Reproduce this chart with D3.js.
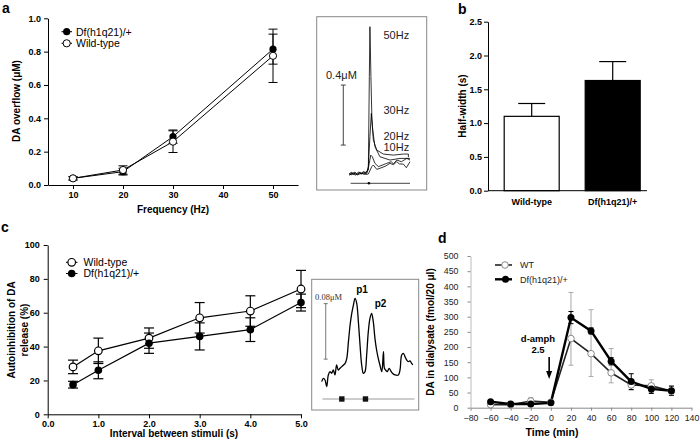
<!DOCTYPE html>
<html><head><meta charset="utf-8">
<script src="https://cdn.jsdelivr.net/npm/d3@7"></script>
<style>body{margin:0;background:#fff}svg{display:block}</style>
</head><body>
<script>
// ---------- DATA ----------
// Panel a
const aFreq = [10, 20, 30, 50];
const aDfMean = [0.04, 0.08, 0.29, 0.815];
const aDfSem = [0.01, 0.02, 0.04, 0.09];
const aWtMean = [0.04, 0.09, 0.26, 0.775];
const aWtSem = [0.01, 0.025, 0.065, 0.16];
const aXTicks = [10, 20, 30, 40, 50];
const aYTicks = [0, 0.2, 0.4, 0.6, 0.8, 1.0];
// Inset a traces [time s, µM]
const insA50 = [[0,0.018],[0.1,0.03],[0.2,0.012],[0.3,0.028],[0.4,0.015],[0.5,0.03],[0.6,0.02],[0.7,0.035],[0.8,0.025],[0.9,0.04],[0.95,0.044],[1.0,0.667],[1.03,1.0],[1.08,0.667],[1.13,0.378],[1.2,0.244],[1.37,0.178],[1.7,0.151],[2.2,0.144],[2.7,0.151],[2.95,0.151],[2.95,0.13]];
const insA30 = [[0,0.013],[0.15,0.025],[0.3,0.01],[0.45,0.03],[0.6,0.018],[0.75,0.03],[0.87,0.029],[0.95,0.067],[1.03,0.267],[1.1,0.422],[1.17,0.311],[1.28,0.2],[1.53,0.133],[2.03,0.111],[2.53,0.122],[3.03,0.122]];
const insA20 = [[0,0.022],[0.12,0.012],[0.25,0.03],[0.4,0.016],[0.55,0.028],[0.7,0.02],[0.87,0.022],[0.95,0.056],[1.07,0.144],[1.15,0.133],[1.28,0.089],[1.45,0.067],[1.87,0.089],[2.1,0.1],[2.2,0.085],[2.37,0.111],[2.6,0.1],[2.87,0.122],[3.03,0.111]];
const insA10 = [[0,0.011],[0.2,0.025],[0.4,0.012],[0.6,0.022],[0.8,0.015],[0.95,0.018],[1.12,0.067],[1.2,0.078],[1.37,0.049],[1.53,0.056],[1.8,0.07],[2.03,0.089],[2.2,0.08],[2.37,0.1],[2.5,0.085],[2.7,0.084],[2.85,0.06],[3.03,0.1]];
const insAStimTime = 0.98;
// Panel b
const bGroups = ["Wild-type", "Df(h1q21)/+"];
const bMean = [1.1, 1.63];
const bSem = [0.19, 0.28];
const bYTicks = [0, 0.5, 1.0, 1.5, 2.0, 2.5];
// Panel c
const cInterval = [0.5, 1, 2, 3, 4, 5];
const cWtMean = [28, 37.5, 45, 57, 61, 74];
const cWtSem = [4, 7.5, 6, 9, 9, 11];
const cDfMean = [17.5, 26, 42, 46, 50, 66];
const cDfSem = [2, 5, 6, 8, 7, 5];
const cXTicks = [0, 1, 2, 3, 4, 5];
const cYTicks = [0, 20, 40, 60, 80, 100];
// Inset c trace [time s, nM]
const insC = [[0,9.6],[0.07,14.4],[0.14,12],[0.21,2.4],[0.28,19.2],[0.35,24],[0.42,21.6],[0.49,26.4],[0.56,19.2],[0.63,33.6],[0.7,26.4],[0.77,28.8],[0.85,31.2],[0.92,33.6],[0.99,36],[1.06,43.2],[1.13,67.2],[1.2,91.2],[1.27,108],[1.34,120],[1.41,129.6],[1.48,122.4],[1.55,96],[1.62,62.4],[1.69,33.6],[1.76,21.6],[1.83,24],[1.9,48],[1.97,81.6],[2.04,100.8],[2.11,108],[2.18,96],[2.25,72],[2.32,55.2],[2.39,43.2],[2.46,33.6],[2.54,24],[2.61,52.8],[2.65,28.8],[2.7,26.4],[2.77,24],[2.85,28.8],[2.92,25],[2.99,21.6],[3.1,19.2],[3.24,19.2],[3.31,26.4],[3.38,48],[3.45,50.4],[3.52,45.6],[3.59,40.8],[3.66,38.4],[3.73,39.4],[3.8,36],[3.85,33.6]];
const insCStims = [0.85, 1.85];
// Panel d
const dTime = [-60, -40, -20, 0, 20, 40, 60, 80, 100, 120];
const dWtMean = [10, 10, 22, 18, 228, 178, 115, 75, 72, 55];
const dWtHigh = [13, 13, 33, 22, 380, 323, 195, 92, 92, 72];
const dWtLow = [7, 7, 12, 14, 140, 103, 82, 58, 50, 40];
const dDfMean = [20, 12, 12, 16, 297, 253, 153, 86, 62, 56];
const dDfSem = [3, 3, 4, 3, 20, 10, 12, 26, 15, 15];
const dXTicks = [-80, -60, -40, -20, 0, 20, 40, 60, 80, 100, 120, 140];
const dYTicks = [0, 50, 100, 150, 200, 250, 300, 350, 400, 450, 500];

// ---------- DRAWING ----------
const F = "'Liberation Sans', Arial, Helvetica, sans-serif";
const svg = d3.select("body").append("svg").attr("width", 700).attr("height", 443)
  .style("font-family", F);

function styleAxis(g, size, weight, color) {
  g.attr("font-family", F).attr("font-size", size).attr("font-weight", weight);
  g.selectAll("text").attr("fill", color || "#000");
  g.selectAll("line").attr("stroke", color || "#000");
  g.select(".domain").attr("stroke", color || "#000");
}
function txt(x, y, s, size, weight, anchor, fam) {
  return svg.append("text").attr("x", x).attr("y", y).text(s)
    .attr("font-size", size).attr("font-weight", weight || "normal")
    .attr("text-anchor", anchor || "start").attr("font-family", fam || F);
}
function vtxt(x, y, s, size, weight) {
  return svg.append("text").attr("transform", `translate(${x},${y}) rotate(-90)`)
    .attr("text-anchor", "middle").attr("dy", "0.35em").text(s)
    .attr("font-size", size).attr("font-weight", weight || "bold");
}
function errBars(g, xs, ms, lo, hi, x, y, cap, color, width) {
  xs.forEach((xv, i) => {
    const cx = x(xv);
    g.append("line").attr("x1", cx).attr("x2", cx).attr("y1", y(lo[i])).attr("y2", y(hi[i]))
      .attr("stroke", color).attr("stroke-width", width || 1);
    [lo[i], hi[i]].forEach(v => g.append("line").attr("x1", cx - cap / 2).attr("x2", cx + cap / 2)
      .attr("y1", y(v)).attr("y2", y(v)).attr("stroke", color).attr("stroke-width", width || 1));
  });
}

// ----- Panel a -----
{
  const x = d3.scaleLinear([5, 55], [48, 298]);
  const y = d3.scaleLinear([0, 1], [185, 18.3]);
  const g = svg.append("g");
  g.append("g").attr("transform", "translate(0,185)")
    .call(d3.axisBottom(x).tickValues(aXTicks).tickSize(4).tickPadding(3).tickSizeOuter(0))
    .call(a => styleAxis(a, 9, "bold"));
  g.append("g").attr("transform", "translate(48,0)")
    .call(d3.axisLeft(y).tickValues(aYTicks).tickFormat(d3.format(".1f")).tickSize(4).tickPadding(3).tickSizeOuter(0))
    .call(a => styleAxis(a, 9, "bold"));
  const line = d3.line().x(d => x(d[0])).y(d => y(d[1]));
  const df = aFreq.map((f, i) => [f, aDfMean[i]]);
  const wt = aFreq.map((f, i) => [f, aWtMean[i]]);
  errBars(g, aFreq, aDfMean, aDfMean.map((m, i) => m - aDfSem[i]), aDfMean.map((m, i) => m + aDfSem[i]), x, y, 9, "#000");
  errBars(g, aFreq, aWtMean, aWtMean.map((m, i) => m - aWtSem[i]), aWtMean.map((m, i) => m + aWtSem[i]), x, y, 9, "#000");
  g.append("path").attr("d", line(df)).attr("fill", "none").attr("stroke", "#000").attr("stroke-width", 1);
  g.append("path").attr("d", line(wt)).attr("fill", "none").attr("stroke", "#000").attr("stroke-width", 1);
  g.selectAll(".dfa").data(df).join("circle").attr("cx", d => x(d[0])).attr("cy", d => y(d[1])).attr("r", 3.6).attr("fill", "#000");
  g.selectAll(".wta").data(wt).join("circle").attr("cx", d => x(d[0])).attr("cy", d => y(d[1])).attr("r", 3.6).attr("fill", "#fff").attr("stroke", "#000").attr("stroke-width", 1);
  // legend
  g.append("line").attr("x1", 61.5).attr("x2", 72).attr("y1", 31.7).attr("y2", 31.7).attr("stroke", "#000");
  g.append("circle").attr("cx", 66.7).attr("cy", 31.7).attr("r", 3.6).attr("fill", "#000");
  g.append("line").attr("x1", 61.5).attr("x2", 72).attr("y1", 43.3).attr("y2", 43.3).attr("stroke", "#000");
  g.append("circle").attr("cx", 66.7).attr("cy", 43.3).attr("r", 3.6).attr("fill", "#fff").attr("stroke", "#000");
  txt(76, 35.5, "Df(h1q21)/+", 10.5);
  txt(76, 47.1, "Wild-type", 10.5);
  txt(173, 213, "Frequency (Hz)", 10, "bold", "middle");
  vtxt(16, 101, "DA overflow (μM)", 10);
  txt(2, 13, "a", 14, "bold");
}

// ----- Inset a -----
{
  svg.append("rect").attr("x", 316.7).attr("y", 16.7).attr("width", 110).attr("height", 173.3)
    .attr("fill", "none").attr("stroke", "#888").attr("stroke-width", 1);
  const x = d3.scaleLinear([0, 3.03], [349.3, 410]);
  const y = d3.scaleLinear([0, 1], [176.7, 26.7]);
  const line = d3.line().x(d => x(d[0])).y(d => y(d[1]));
  [insA10, insA20, insA30, insA50].forEach(tr =>
    svg.append("path").attr("d", line(tr)).attr("fill", "none").attr("stroke", "#000").attr("stroke-width", 0.8));
  // scale bar 0.4 µM
  const sx = x(-0.3);
  svg.append("line").attr("x1", sx).attr("x2", sx).attr("y1", y(0.211)).attr("y2", y(0.611)).attr("stroke", "#444");
  [0.211, 0.611].forEach(v => svg.append("line").attr("x1", sx - 2.5).attr("x2", sx + 2.5).attr("y1", y(v)).attr("y2", y(v)).attr("stroke", "#444"));
  // stimulus line
  svg.append("line").attr("x1", x(0.067)).attr("x2", x(3.03)).attr("y1", y(-0.044)).attr("y2", y(-0.044)).attr("stroke", "#444");
  svg.append("circle").attr("cx", x(insAStimTime)).attr("cy", y(-0.044)).attr("r", 1.3).attr("fill", "#000");
  txt(326, 79, "0.4μM", 11).attr("fill", "#222");
  txt(383.5, 39, "50Hz", 11).attr("fill", "#222");
  txt(383.5, 114, "30Hz", 11).attr("fill", "#222");
  txt(383.5, 140, "20Hz", 11).attr("fill", "#222");
  txt(383.5, 150.7, "10Hz", 11).attr("fill", "#222");
}

// ----- Panel b -----
{
  const x = d3.scaleBand().domain(bGroups).range([488, 656.4]).paddingInner(0.321).paddingOuter(0.2);
  const y = d3.scaleLinear([0, 2.5], [190.7, 21.7]);
  const g = svg.append("g");
  g.append("g").attr("transform", "translate(488,0)")
    .call(d3.axisLeft(y).tickValues(bYTicks).tickFormat(d3.format(".1f")).tickSize(4).tickPadding(2).tickSizeOuter(0))
    .call(a => styleAxis(a, 9, "bold"));
  g.selectAll(".eb").data(bGroups).join("g").each(function (d, i) {
    const cx = x(d) + x.bandwidth() / 2;
    const s = d3.select(this);
    s.append("line").attr("x1", cx).attr("x2", cx).attr("y1", y(bMean[i])).attr("y2", y(bMean[i] + bSem[i])).attr("stroke", "#000").attr("stroke-width", 1.2);
    s.append("line").attr("x1", cx - 13.5).attr("x2", cx + 13.5).attr("y1", y(bMean[i] + bSem[i])).attr("y2", y(bMean[i] + bSem[i])).attr("stroke", "#000").attr("stroke-width", 1.2);
  });
  g.selectAll(".bar").data(bGroups).join("rect")
    .attr("x", d => x(d)).attr("width", x.bandwidth())
    .attr("y", (d, i) => y(bMean[i])).attr("height", (d, i) => y(0) - y(bMean[i]))
    .attr("fill", (d, i) => i ? "#000" : "#fff").attr("stroke", "#000").attr("stroke-width", 1.2);
  g.append("line").attr("x1", 488).attr("x2", 647).attr("y1", 190.7).attr("y2", 190.7).attr("stroke", "#000");
  bGroups.forEach(d => txt(x(d) + x.bandwidth() / 2, 204.5, d, 9, "bold", "middle"));
  vtxt(462, 106, "Half-width (s)", 10);
  txt(458, 14, "b", 14, "bold");
}

// ----- Panel c -----
{
  const x = d3.scaleLinear([0, 5], [47.7, 301]);
  const y = d3.scaleLinear([0, 100], [414.3, 245]);
  const g = svg.append("g");
  g.append("g").attr("transform", "translate(0,414.3)")
    .call(d3.axisBottom(x).tickValues(cXTicks).tickSize(4).tickPadding(2).tickSizeOuter(0))
    .call(a => styleAxis(a, 9, "bold"));
  g.append("g").attr("transform", "translate(47.7,0)")
    .call(d3.axisLeft(y).tickValues(cYTicks).tickSize(4).tickPadding(4).tickSizeOuter(0))
    .call(a => styleAxis(a, 9, "bold"));
  const line = d3.line().x(d => x(d[0])).y(d => y(d[1]));
  const wt = cInterval.map((t, i) => [t, cWtMean[i]]);
  const df = cInterval.map((t, i) => [t, cDfMean[i]]);
  errBars(g, cInterval, cWtMean, cWtMean.map((m, i) => m - cWtSem[i]), cWtMean.map((m, i) => m + cWtSem[i]), x, y, 10, "#000", 1.2);
  errBars(g, cInterval, cDfMean, cDfMean.map((m, i) => m - cDfSem[i]), cDfMean.map((m, i) => m + cDfSem[i]), x, y, 10, "#000", 1.2);
  g.append("path").attr("d", line(wt)).attr("fill", "none").attr("stroke", "#000").attr("stroke-width", 1.2);
  g.append("path").attr("d", line(df)).attr("fill", "none").attr("stroke", "#000").attr("stroke-width", 1.2);
  g.selectAll(".wtc").data(wt).join("circle").attr("cx", d => x(d[0])).attr("cy", d => y(d[1])).attr("r", 3.8).attr("fill", "#fff").attr("stroke", "#000").attr("stroke-width", 1.2);
  g.selectAll(".dfc").data(df).join("circle").attr("cx", d => x(d[0])).attr("cy", d => y(d[1])).attr("r", 3.8).attr("fill", "#000");
  g.append("line").attr("x1", 66).attr("x2", 77.5).attr("y1", 262.3).attr("y2", 262.3).attr("stroke", "#000");
  g.append("circle").attr("cx", 71.7).attr("cy", 262.3).attr("r", 3.8).attr("fill", "#fff").attr("stroke", "#000").attr("stroke-width", 1.2);
  g.append("line").attr("x1", 66).attr("x2", 77.5).attr("y1", 273.5).attr("y2", 273.5).attr("stroke", "#000");
  g.append("circle").attr("cx", 71.7).attr("cy", 273.5).attr("r", 3.8).attr("fill", "#000");
  txt(83.5, 266.2, "Wild-type", 10.5);
  txt(83.5, 277.4, "Df(h1q21)/+", 10.5);
  txt(174, 437, "Interval between stimuli (s)", 10, "bold", "middle");
  vtxt(11, 330, "Autoinhibition of DA", 10);
  vtxt(24, 330, "release (%)", 10);
  txt(1, 232, "c", 14, "bold");
}

// ----- Inset c -----
{
  svg.append("rect").attr("x", 311.7).attr("y", 279.3).attr("width", 107).attr("height", 130.7)
    .attr("fill", "none").attr("stroke", "#888").attr("stroke-width", 1);
  const x = d3.scaleLinear([0, 3.85], [321.7, 412.8]);
  const y = d3.scaleLinear([0, 100], [388.3, 318.9]);
  const line = d3.line().x(d => x(d[0])).y(d => y(d[1])).curve(d3.curveCatmullRom);
  svg.append("path").attr("d", line(insC)).attr("fill", "none").attr("stroke", "#000").attr("stroke-width", 1.3);
  const sx = x(0.17);
  svg.append("line").attr("x1", sx).attr("x2", sx).attr("y1", y(42)).attr("y2", y(122)).attr("stroke", "#555").attr("stroke-width", 0.8);
  [42, 122].forEach(v => svg.append("line").attr("x1", sx - 2).attr("x2", sx + 2).attr("y1", y(v)).attr("y2", y(v)).attr("stroke", "#555").attr("stroke-width", 0.8));
  svg.append("line").attr("x1", x(0.03)).attr("x2", x(3.92)).attr("y1", y(-15.4)).attr("y2", y(-15.4)).attr("stroke", "#999").attr("stroke-width", 1.2);
  insCStims.forEach(t => svg.append("rect").attr("x", x(t) - 2.7).attr("y", y(-15.4) - 2.7).attr("width", 5.4).attr("height", 5.4).attr("fill", "#111"));
  txt(315, 299.5, "0.08μM", 8.5, "normal", "start", "'Liberation Serif', 'Times New Roman', serif").attr("fill", "#333");
  txt(362, 292.5, "p1", 10, "bold", "middle");
  txt(380.5, 306.5, "p2", 10, "bold", "middle");
}

// ----- Panel d -----
{
  const x = d3.scaleLinear([-80, 140], [470.5, 691.5]);
  const y = d3.scaleLinear([0, 500], [407.7, 256]);
  const g = svg.append("g");
  g.append("g").attr("transform", "translate(0,407.7)")
    .call(d3.axisBottom(x).tickValues(dXTicks).tickSize(3).tickPadding(4).tickSizeOuter(0))
    .call(a => styleAxis(a, 8.8, "normal", "#222"))
    .call(a => { a.selectAll("line").attr("stroke", "#888"); a.select(".domain").attr("stroke", "#888"); });
  g.append("g").attr("transform", "translate(470.5,0)")
    .call(d3.axisLeft(y).tickValues(dYTicks).tickSize(3).tickPadding(9).tickSizeOuter(0))
    .call(a => styleAxis(a, 8.8, "normal", "#222"))
    .call(a => { a.selectAll("line").attr("stroke", "#888"); a.select(".domain").attr("stroke", "#bbb"); });
  const line = d3.line().x(d => x(d[0])).y(d => y(d[1]));
  const wt = dTime.map((t, i) => [t, dWtMean[i]]);
  const df = dTime.map((t, i) => [t, dDfMean[i]]);
  errBars(g, dTime, dWtMean, dWtLow, dWtHigh, x, y, 5, "#a8a8a8", 1);
  errBars(g, dTime, dDfMean, dDfMean.map((m, i) => m - dDfSem[i]), dDfMean.map((m, i) => m + dDfSem[i]), x, y, 5, "#000", 1);
  g.append("path").attr("d", line(wt)).attr("fill", "none").attr("stroke", "#222").attr("stroke-width", 1.6);
  g.append("path").attr("d", line(df)).attr("fill", "none").attr("stroke", "#000").attr("stroke-width", 2.4);
  g.selectAll(".wtd").data(wt).join("circle").attr("cx", d => x(d[0])).attr("cy", d => y(d[1])).attr("r", 3.3).attr("fill", "#fff").attr("stroke", "#888").attr("stroke-width", 1);
  g.selectAll(".dfd").data(df).join("circle").attr("cx", d => x(d[0])).attr("cy", d => y(d[1])).attr("r", 3.5).attr("fill", "#000");
  // legend
  g.append("line").attr("x1", 495).attr("x2", 512).attr("y1", 265).attr("y2", 265).attr("stroke", "#222").attr("stroke-width", 1.6);
  g.append("circle").attr("cx", 505).attr("cy", 265).attr("r", 3.3).attr("fill", "#fff").attr("stroke", "#888");
  g.append("line").attr("x1", 495).attr("x2", 512).attr("y1", 279.3).attr("y2", 279.3).attr("stroke", "#000").attr("stroke-width", 2.4);
  g.append("circle").attr("cx", 505.5).attr("cy", 279.3).attr("r", 3.5).attr("fill", "#000");
  txt(520, 268.3, "WT", 9).attr("fill", "#222");
  txt(520, 282.6, "Df(h1q21)/+", 9).attr("fill", "#222");
  // d-amph annotation
  txt(538, 341.5, "d-amph", 9.5, "bold", "middle");
  txt(538, 352.5, "2.5", 9.5, "bold", "middle");
  const ax = x(-1.7);
  g.append("line").attr("x1", ax).attr("x2", ax).attr("y1", 357).attr("y2", 372).attr("stroke", "#000").attr("stroke-width", 1.6);
  g.append("path").attr("d", `M${ax - 3},${371} L${ax + 3},${371} L${ax},${379} Z`).attr("fill", "#000");
  txt(552, 436, "Time (min)", 10.5, "bold", "middle");
  vtxt(430, 332, "DA in dialysate (fmol/20 μl)", 10);
  txt(438, 243, "d", 14, "bold");
}
</script>
</body></html>
